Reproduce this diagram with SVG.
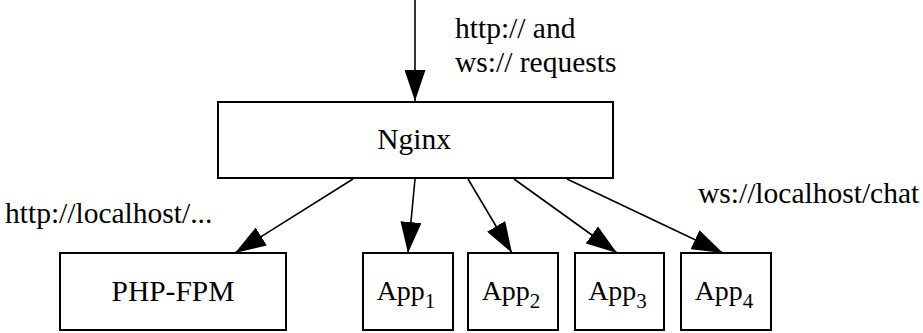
<svg xmlns="http://www.w3.org/2000/svg" width="923" height="333" viewBox="0 0 923 333">
<style>
.box{fill:#fff;stroke:#000;stroke-width:2}
.t{font-family:'Liberation Serif','DejaVu Serif','Times New Roman',serif;font-size:29.5px;fill:#000}
.c{text-anchor:middle}
.app{font-size:28px}
.sub{font-size:21px}
.edge{stroke:#000;stroke-width:1.6;fill:none;marker-end:url(#ah)}
</style>
<defs>
<marker id="ah" markerUnits="userSpaceOnUse" markerWidth="31" markerHeight="21" refX="31" refY="10.5" orient="auto" viewBox="0 0 31 21">
<path d="M0,0 L31,10.5 L0,21 z" fill="#000"/>
</marker>
</defs>
<g id="connectors">
<line class="edge" x1="415" y1="0" x2="415" y2="101"/>
<line class="edge" x1="353" y1="179" x2="235" y2="253"/>
<line class="edge" x1="415" y1="179" x2="408" y2="253"/>
<line class="edge" x1="468" y1="179" x2="512" y2="253"/>
<line class="edge" x1="514" y1="179" x2="617" y2="253"/>
<line class="edge" x1="567" y1="179" x2="723" y2="253"/>
</g>
<g id="labels">
<text class="t" x="455" y="38">http:// and</text>
<text class="t" x="455" y="72">ws:// requests</text>
<text class="t" x="5" y="223">http://localhost/...</text>
<text class="t" x="698" y="203">ws://localhost/chat</text>
</g>
<g id="nginx">
<rect class="box" x="218" y="102" width="395" height="76"/>
<text class="t c" x="414" y="149">Nginx</text>
</g>
<g id="phpfpm">
<rect class="box" x="60" y="253" width="226" height="77"/>
<text class="t c" x="173" y="301">PHP-FPM</text>
</g>
<g id="app1">
<rect class="box" x="363" y="253" width="90" height="77"/>
<text class="t app c" x="406" y="300">App<tspan class="sub" dy="8">1</tspan></text>
</g>
<g id="app2">
<rect class="box" x="468" y="253" width="90" height="77"/>
<text class="t app c" x="511" y="300">App<tspan class="sub" dy="8">2</tspan></text>
</g>
<g id="app3">
<rect class="box" x="575" y="253" width="89" height="77"/>
<text class="t app c" x="617.5" y="300">App<tspan class="sub" dy="8">3</tspan></text>
</g>
<g id="app4">
<rect class="box" x="681" y="253" width="90" height="77"/>
<text class="t app c" x="724" y="300">App<tspan class="sub" dy="8">4</tspan></text>
</g>
</svg>
